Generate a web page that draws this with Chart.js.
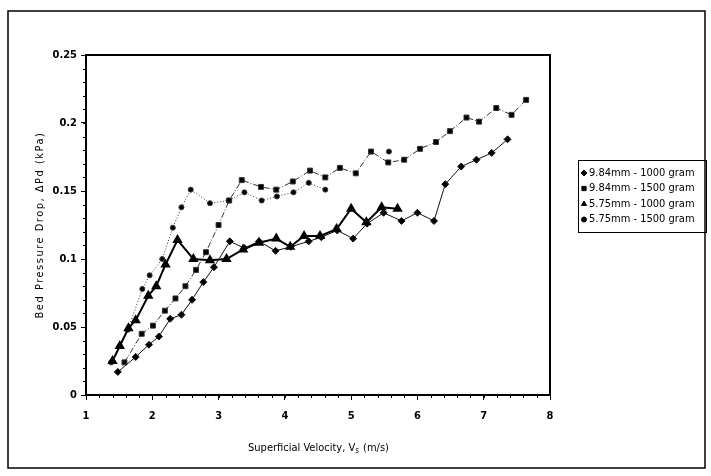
<!DOCTYPE html>
<html>
<head>
<meta charset="utf-8">
<script src="https://cdn.jsdelivr.net/npm/chart.js@4/dist/chart.umd.min.js"></script>
<style>
    html, body { margin: 0; padding: 0; background: #fff; }
    #wrap { width: 711px; height: 476px; position: relative; }
</style>
</head>
<body>
<div id="wrap"><canvas id="bedChart" width="711" height="476"></canvas></div>
<script>
const vel_984_1000 = [1.48, 1.75, 1.95, 2.10, 2.27, 2.44, 2.60, 2.77, 2.93, 3.17, 3.39, 3.61, 3.86, 4.09, 4.36, 4.55, 4.79, 5.03, 5.24, 5.49, 5.76, 6.00, 6.25, 6.42, 6.66, 6.89, 7.12, 7.36];
const dp_984_1000 = [0.017, 0.028, 0.037, 0.043, 0.056, 0.059, 0.070, 0.083, 0.094, 0.113, 0.108, 0.113, 0.106, 0.109, 0.113, 0.116, 0.121, 0.115, 0.126, 0.134, 0.128, 0.134, 0.128, 0.155, 0.168, 0.173, 0.178, 0.188];

const vel_984_1500 = [1.58, 1.84, 2.01, 2.19, 2.35, 2.50, 2.66, 2.81, 3.00, 3.16, 3.35, 3.64, 3.87, 4.12, 4.38, 4.61, 4.83, 5.07, 5.30, 5.56, 5.80, 6.04, 6.28, 6.49, 6.74, 6.93, 7.19, 7.42, 7.64];
const dp_984_1500 = [0.024, 0.045, 0.051, 0.062, 0.071, 0.080, 0.092, 0.105, 0.125, 0.143, 0.158, 0.153, 0.151, 0.157, 0.165, 0.160, 0.167, 0.163, 0.179, 0.171, 0.173, 0.181, 0.186, 0.194, 0.204, 0.201, 0.211, 0.206, 0.217];

const vel_575_1000 = [1.40, 1.51, 1.64, 1.75, 1.94, 2.06, 2.20, 2.38, 2.62, 2.87, 3.12, 3.37, 3.61, 3.87, 4.08, 4.29, 4.53, 4.78, 5.00, 5.23, 5.46, 5.70];
const dp_575_1000 = [0.025, 0.036, 0.049, 0.055, 0.073, 0.080, 0.096, 0.114, 0.100, 0.099, 0.100, 0.107, 0.112, 0.115, 0.109, 0.117, 0.117, 0.122, 0.137, 0.127, 0.138, 0.137];

const vel_575_1500 = [1.38, 1.51, 1.63, 1.85, 1.96, 2.15, 2.31, 2.44, 2.58, 2.87, 3.15, 3.39, 3.65, 3.88, 4.13, 4.36, 4.61, 5.10, 5.57];
const dp_575_1500 = [0.024, 0.036, 0.048, 0.078, 0.088, 0.100, 0.123, 0.138, 0.151, 0.141, 0.143, 0.149, 0.143, 0.146, 0.149, 0.156, 0.151, null, 0.179];

const seriesNames = ['9.84mm - 1000 gram', '9.84mm - 1500 gram', '5.75mm - 1000 gram', '5.75mm - 1500 gram'];
const xTicks = [1, 2, 3, 4, 5, 6, 7, 8];
const yTicks = [0, 0.05, 0.1, 0.15, 0.2, 0.25];

const FONT = "'Liberation Sans Narrow', 'DejaVu Sans Condensed', 'Liberation Sans', sans-serif";

function pts(xs, ys) {
    return xs.map((v, i) => ({ x: v, y: ys[i] }));
}

const framePlugin = {
    id: 'frame',
    afterDraw(chart) {
        const { ctx, chartArea: a, scales } = chart;
        const sx = scales.x;
        const sy = scales.y;
        ctx.save();

        // outer box
        ctx.strokeStyle = '#000';
        ctx.lineWidth = 1.5;
        ctx.strokeRect(8, 11, 697, 457);

        // plot box
        ctx.lineWidth = 2;
        ctx.strokeRect(a.left, a.top, a.right - a.left, a.bottom - a.top);

        // minor ticks
        ctx.lineWidth = 1;
        ctx.beginPath();
        for (let v = 1; v <= 8.001; v += 0.2) {
            const px = Math.round(sx.getPixelForValue(v)) + 0.5;
            ctx.moveTo(px, a.bottom);
            ctx.lineTo(px, a.bottom + 3);
        }
        for (let v = 0; v <= 0.2501; v += 0.01) {
            const py = Math.round(sy.getPixelForValue(v)) + 0.5;
            ctx.moveTo(a.left - 3, py);
            ctx.lineTo(a.left, py);
        }
        ctx.stroke();

        // axis titles
        ctx.fillStyle = '#000';
        ctx.font = '11px ' + FONT;
        ctx.textBaseline = 'middle';
        const xt1 = 'Superficial Velocity, V';
        const xt2 = 's';
        const xt3 = ' (m/s)';
        const w1 = ctx.measureText(xt1).width;
        ctx.font = '8px ' + FONT;
        const w2 = ctx.measureText(xt2).width;
        ctx.font = '11px ' + FONT;
        const w3 = ctx.measureText(xt3).width;
        let tx = (a.left + a.right) / 2 - (w1 + w2 + w3) / 2;
        const ty = 448;
        ctx.textAlign = 'left';
        ctx.fillText(xt1, tx, ty);
        ctx.font = '8px ' + FONT;
        ctx.fillText(xt2, tx + w1, ty + 3);
        ctx.font = '11px ' + FONT;
        ctx.fillText(xt3, tx + w1 + w2 + 1, ty);

        ctx.save();
        ctx.translate(40, (a.top + a.bottom) / 2);
        ctx.rotate(-Math.PI / 2);
        ctx.textAlign = 'center';
        ctx.letterSpacing = '1.5px';
        ctx.fillText('Bed Pressure Drop, \u0394Pd (kPa)', 0, 0);
        ctx.restore();

        // legend
        ctx.lineWidth = 1;
        ctx.strokeRect(578.5, 160.5, 128, 72);
        ctx.font = '11px ' + FONT;
        ctx.textAlign = 'left';
        chart.data.datasets.forEach((ds, i) => {
            const ly = 173 + i * 15.5;
            ctx.fillStyle = '#000';
            ctx.strokeStyle = '#000';
            Chart.helpers.drawPoint(ctx, {
                pointStyle: ds.pointStyle,
                radius: Math.min(ds.pointRadius, 3),
                rotation: 0,
                borderWidth: 1,
            }, 584, ly);
            ctx.fillText(ds.label, 589, ly);
        });

        ctx.restore();
    },
};

function createBedChart() {
    const canvas = document.getElementById('bedChart');
    if (!canvas || typeof Chart === 'undefined') {
        return;
    }

    new Chart(canvas, {
        type: 'scatter',
        data: {
            datasets: [
                {
                    label: seriesNames[0],
                    data: pts(vel_984_1000, dp_984_1000),
                    showLine: true,
                    borderColor: '#111',
                    backgroundColor: '#000',
                    borderWidth: 1,
                    pointStyle: 'rectRot',
                    pointRadius: 3.5,
                },
                {
                    label: seriesNames[1],
                    data: pts(vel_984_1500, dp_984_1500),
                    showLine: true,
                    borderColor: '#333',
                    backgroundColor: '#000',
                    borderWidth: 1,
                    borderDash: [6, 2, 1, 2],
                    pointStyle: 'rect',
                    pointRadius: 3.5,
                },
                {
                    label: seriesNames[2],
                    data: pts(vel_575_1000, dp_575_1000),
                    showLine: true,
                    borderColor: '#000',
                    backgroundColor: '#000',
                    borderWidth: 2,
                    pointStyle: 'triangle',
                    pointRadius: 4,
                },
                {
                    label: seriesNames[3],
                    data: pts(vel_575_1500, dp_575_1500),
                    showLine: true,
                    spanGaps: false,
                    borderColor: '#333',
                    backgroundColor: '#000',
                    borderWidth: 1,
                    borderDash: [1, 2],
                    pointStyle: 'circle',
                    pointRadius: 2.5,
                },
            ],
        },
        options: {
            responsive: false,
            animation: false,
            devicePixelRatio: 1,
            layout: {
                padding: { left: 0, right: 161, top: 55, bottom: 0 },
            },
            scales: {
                x: {
                    type: 'linear',
                    min: 1,
                    max: 8,
                    afterFit(scale) { scale.height = 81; },
                    afterBuildTicks(scale) { scale.ticks = xTicks.map(v => ({ value: v })); },
                    ticks: {
                        color: '#000',
                        padding: 10,
                        font: { family: FONT, size: 11, weight: 'bold' },
                        callback: v => String(v),
                    },
                    grid: {
                        drawOnChartArea: false,
                        drawTicks: true,
                        tickLength: 5,
                        color: '#000',
                    },
                    border: { display: true, color: '#000', width: 2 },
                },
                y: {
                    type: 'linear',
                    min: 0,
                    max: 0.25,
                    afterFit(scale) { scale.width = 86; },
                    afterBuildTicks(scale) { scale.ticks = yTicks.map(v => ({ value: v })); },
                    ticks: {
                        color: '#000',
                        padding: 4,
                        font: { family: FONT, size: 11, weight: 'bold' },
                        callback: v => String(+v.toFixed(2)),
                    },
                    grid: {
                        drawOnChartArea: false,
                        drawTicks: true,
                        tickLength: 5,
                        color: '#000',
                    },
                    border: { display: true, color: '#000', width: 2 },
                },
            },
            plugins: {
                legend: { display: false },
                tooltip: { enabled: false },
            },
        },
        plugins: [framePlugin],
    });
}

document.addEventListener('DOMContentLoaded', () => {
    createBedChart();
});
</script>
</body>
</html>
